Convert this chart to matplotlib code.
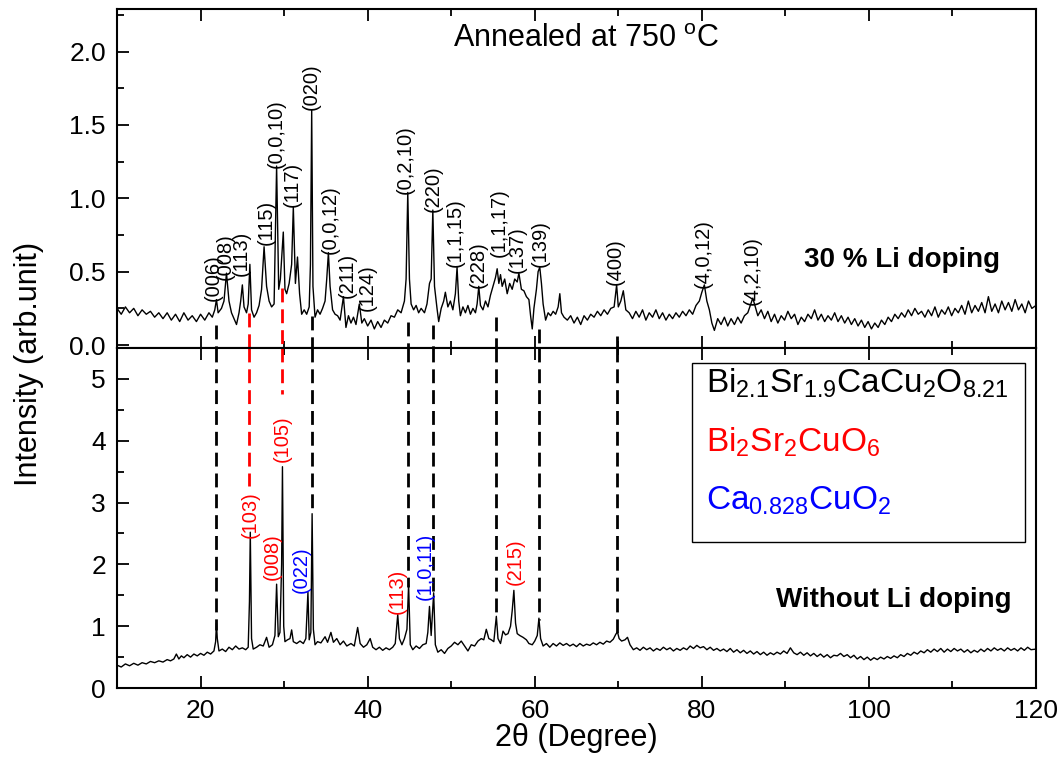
import matplotlib
matplotlib.use("Agg")
import matplotlib.pyplot as plt
from matplotlib.patches import Rectangle
from matplotlib.ticker import MultipleLocator

plt.rcParams['font.family'] = ['Liberation Sans', 'DejaVu Sans']
plt.rcParams['mathtext.fontset'] = 'custom'
plt.rcParams['mathtext.rm'] = 'Liberation Sans'
plt.rcParams['mathtext.it'] = 'Liberation Sans:italic'
plt.rcParams['mathtext.bf'] = 'Liberation Sans:bold'

# ---- 30 % Li doped sample (upper panel) ----
top_x = [10.0, 10.5, 11.0, 11.5, 12.0, 12.5, 13.0, 13.5, 14.0, 14.5, 15.0, 15.5, 16.0, 16.5,
         17.0, 17.5, 18.0, 18.5, 19.0, 19.5, 20.0, 20.5, 21.0, 21.4, 21.7, 21.9, 22.1, 22.5,
         22.8, 23.1, 23.4, 23.7, 24.0, 24.3, 24.6, 24.8, 25.0, 25.2, 25.5, 25.7, 25.9, 26.1,
         26.4, 26.7, 27.0, 27.3, 27.6, 27.9, 28.2, 28.5, 28.8, 29.1, 29.35, 29.55, 29.9, 30.1,
         30.3, 30.6, 30.9, 31.1, 31.35, 31.6, 31.85, 32.1, 32.4, 32.7, 33.0, 33.15, 33.3, 33.45,
         33.7, 34.0, 34.3, 34.6, 34.9, 35.1, 35.3, 35.5, 35.8, 36.1, 36.4, 36.7, 37.1, 37.4,
         37.7, 38.0, 38.3, 38.6, 39.0, 39.3, 39.6, 40.0, 40.4, 40.8, 41.2, 41.6, 42.0, 42.4,
         42.8, 43.2, 43.6, 44.0, 44.4, 44.6, 44.8, 45.0, 45.2, 45.5, 45.8, 46.1, 46.4, 46.8,
         47.1, 47.4, 47.6, 47.8, 48.0, 48.3, 48.5, 48.8, 49.1, 49.3, 49.6, 49.9, 50.2, 50.5,
         50.7, 50.9, 51.1, 51.4, 51.7, 52.0, 52.3, 52.6, 52.9, 53.1, 53.3, 53.5, 53.8, 54.1,
         54.4, 54.7, 55.0, 55.3, 55.5, 55.7, 55.9, 56.1, 56.4, 56.7, 57.0, 57.3, 57.6, 57.9,
         58.1, 58.4, 58.7, 59.0, 59.3, 59.5, 59.7, 59.9, 60.2, 60.4, 60.6, 60.8, 61.0, 61.3,
         61.6, 61.9, 62.2, 62.5, 62.8, 63.0, 63.2, 63.5, 63.9, 64.3, 64.7, 65.1, 65.5, 65.9,
         66.3, 66.7, 67.1, 67.5, 67.9, 68.3, 68.7, 69.1, 69.5, 69.8, 70.0, 70.3, 70.6, 70.9,
         71.3, 71.7, 72.1, 72.5, 72.9, 73.3, 73.7, 74.1, 74.5, 74.9, 75.3, 75.7, 76.1, 76.5,
         76.9, 77.3, 77.7, 78.1, 78.5, 78.9, 79.3, 79.7, 80.0, 80.3, 80.6, 80.9, 81.2, 81.5,
         81.9, 82.3, 82.7, 83.1, 83.5, 83.9, 84.3, 84.7, 85.1, 85.5, 85.8, 86.1, 86.4, 86.7,
         87.1, 87.5, 87.9, 88.3, 88.7, 89.1, 89.5, 89.9, 90.3, 90.7, 91.1, 91.5, 91.9, 92.3,
         92.7, 93.1, 93.5, 93.9, 94.3, 94.7, 95.1, 95.5, 95.9, 96.3, 96.7, 97.1, 97.5, 97.9,
         98.3, 98.7, 99.1, 99.5, 99.9, 100.3, 100.7, 101.1, 101.5, 101.9, 102.3, 102.7, 103.1,
         103.5, 103.9, 104.3, 104.7, 105.1, 105.5, 105.9, 106.3, 106.7, 107.1, 107.5, 107.9,
         108.3, 108.7, 109.1, 109.5, 109.9, 110.3, 110.7, 111.1, 111.5, 111.9, 112.3, 112.7,
         113.1, 113.5, 113.9, 114.3, 114.7, 115.1, 115.5, 115.9, 116.3, 116.7, 117.1, 117.5,
         117.9, 118.3, 118.7, 119.1, 119.5, 120.0]
top_y = [0.25, 0.21, 0.26, 0.22, 0.25, 0.20, 0.24, 0.21, 0.23, 0.19, 0.22, 0.18, 0.22, 0.17,
         0.21, 0.16, 0.22, 0.17, 0.20, 0.16, 0.21, 0.17, 0.22, 0.19, 0.24, 0.31, 0.22, 0.25,
         0.30, 0.49, 0.30, 0.22, 0.18, 0.14, 0.22, 0.30, 0.41, 0.26, 0.22, 0.28, 0.55, 0.24,
         0.19, 0.22, 0.27, 0.38, 0.67, 0.40, 0.30, 0.26, 0.28, 1.22, 0.38, 0.45, 0.77, 0.38,
         0.35, 0.42, 0.55, 0.94, 0.42, 0.60, 0.35, 0.21, 0.24, 0.21, 0.26, 0.55, 1.60, 0.40,
         0.19, 0.24, 0.21, 0.25, 0.30, 0.45, 0.63, 0.40, 0.24, 0.21, 0.20, 0.17, 0.33, 0.12,
         0.20, 0.15, 0.19, 0.14, 0.28, 0.15, 0.18, 0.13, 0.17, 0.11, 0.16, 0.12, 0.17, 0.15,
         0.20, 0.19, 0.24, 0.22, 0.30, 0.45, 1.04, 0.45, 0.28, 0.24, 0.27, 0.22, 0.25, 0.22,
         0.28, 0.42, 0.45, 0.92, 0.40, 0.25, 0.16, 0.25, 0.30, 0.36, 0.26, 0.30, 0.24, 0.35,
         0.53, 0.30, 0.20, 0.26, 0.22, 0.27, 0.21, 0.25, 0.22, 0.28, 0.40, 0.27, 0.24, 0.30,
         0.26, 0.34, 0.40, 0.46, 0.52, 0.42, 0.48, 0.40, 0.45, 0.35, 0.42, 0.38, 0.45, 0.43,
         0.49, 0.38, 0.37, 0.33, 0.31, 0.20, 0.11, 0.25, 0.38, 0.50, 0.53, 0.42, 0.28, 0.17,
         0.22, 0.20, 0.23, 0.21, 0.26, 0.35, 0.22, 0.19, 0.17, 0.20, 0.15, 0.19, 0.14, 0.20,
         0.17, 0.21, 0.19, 0.23, 0.20, 0.24, 0.21, 0.25, 0.26, 0.41, 0.26, 0.30, 0.37, 0.24,
         0.22, 0.18, 0.23, 0.19, 0.24, 0.17, 0.22, 0.19, 0.24, 0.18, 0.22, 0.17, 0.21, 0.18,
         0.22, 0.19, 0.23, 0.20, 0.24, 0.21, 0.27, 0.30, 0.36, 0.41, 0.30, 0.24, 0.15, 0.10,
         0.18, 0.14, 0.19, 0.13, 0.18, 0.14, 0.19, 0.15, 0.20, 0.22, 0.27, 0.32, 0.26, 0.20,
         0.24, 0.18, 0.23, 0.16, 0.21, 0.15, 0.20, 0.17, 0.23, 0.18, 0.21, 0.14, 0.19, 0.16,
         0.21, 0.18, 0.24, 0.17, 0.21, 0.16, 0.20, 0.17, 0.22, 0.16, 0.20, 0.15, 0.19, 0.14,
         0.18, 0.13, 0.17, 0.12, 0.16, 0.11, 0.15, 0.12, 0.17, 0.14, 0.19, 0.16, 0.21,
         0.18, 0.22, 0.19, 0.24, 0.20, 0.25, 0.21, 0.23, 0.19, 0.24, 0.20, 0.26,
         0.19, 0.24, 0.21, 0.26, 0.20, 0.25, 0.22, 0.27, 0.21, 0.30, 0.22, 0.27,
         0.23, 0.29, 0.22, 0.33, 0.23, 0.28, 0.22, 0.30, 0.24, 0.29, 0.23, 0.31,
         0.24, 0.28, 0.22, 0.30, 0.25, 0.27]

# ---- undoped sample (lower panel) ----
bot_x = [10.0, 10.5, 11.0, 11.5, 12.0, 12.5, 13.0, 13.5, 14.0, 14.5, 15.0, 15.5, 16.0, 16.4,
         16.8, 17.1, 17.4, 17.7, 18.0, 18.4, 18.8, 19.2, 19.6, 20.0, 20.4, 20.8, 21.2, 21.6,
         21.8, 21.9, 22.0, 22.2, 22.6, 23.0, 23.4, 23.8, 24.2, 24.6, 25.0, 25.4, 25.7, 25.85,
         25.95, 26.1, 26.3, 26.7, 27.1, 27.5, 27.9, 28.2, 28.6, 28.9, 29.1, 29.3, 29.5, 29.7,
         29.8, 29.95, 30.1, 30.4, 30.7, 30.9, 31.1, 31.5, 31.9, 32.3, 32.6, 32.85, 33.0, 33.2,
         33.35, 33.5, 33.7, 34.0, 34.4, 34.9, 35.2, 35.6, 35.9, 36.3, 36.7, 37.1, 37.5, 38.0,
         38.4, 38.8, 39.1, 39.5, 39.9, 40.3, 40.6, 41.0, 41.4, 41.8, 42.2, 42.6, 43.0, 43.3,
         43.6, 43.8, 44.1, 44.4, 44.7, 44.9, 45.1, 45.4, 45.8, 46.2, 46.6, 47.0, 47.2, 47.4,
         47.6, 47.9, 48.1, 48.4, 48.8, 49.2, 49.6, 50.0, 50.4, 50.8, 51.2, 51.6, 52.0, 52.4,
         52.8, 53.2, 53.6, 53.9, 54.2, 54.5, 54.8, 55.1, 55.4, 55.6, 55.9, 56.2, 56.5, 56.8,
         57.1, 57.3, 57.5, 57.7, 57.9, 58.2, 58.6, 59.0, 59.3, 59.7, 60.0, 60.3, 60.5, 60.7,
         61.0, 61.4, 61.8, 62.2, 62.6, 63.0, 63.4, 63.8, 64.2, 64.6, 65.0, 65.4, 65.8, 66.2,
         66.6, 67.0, 67.4, 67.8, 68.2, 68.6, 69.0, 69.4, 69.7, 69.9, 70.1, 70.4, 70.8, 71.1,
         71.4, 71.8, 72.2, 72.6, 73.0, 73.4, 73.8, 74.2, 74.6, 75.0, 75.4, 75.8, 76.2, 76.6,
         77.0, 77.4, 77.8, 78.2, 78.6, 79.0, 79.4, 79.8, 80.2, 80.6, 81.0, 81.4, 81.8, 82.2,
         82.6, 83.0, 83.4, 83.8, 84.2, 84.6, 85.0, 85.4, 85.8, 86.2, 86.6, 87.0, 87.4, 87.8,
         88.2, 88.6, 89.0, 89.4, 89.8, 90.2, 90.6, 91.0, 91.4, 91.8, 92.2, 92.6, 93.0, 93.4,
         93.8, 94.2, 94.6, 95.0, 95.4, 95.8, 96.2, 96.6, 97.0, 97.4, 97.8, 98.2, 98.6, 99.0,
         99.4, 99.8, 100.2, 100.6, 101.0, 101.4, 101.8, 102.2, 102.6, 103.0, 103.4, 103.8,
         104.2, 104.6, 105.0, 105.4, 105.8, 106.2, 106.6, 107.0, 107.4, 107.8, 108.2, 108.6,
         109.0, 109.4, 109.8, 110.2, 110.6, 111.0, 111.4, 111.8, 112.2, 112.6, 113.0, 113.4,
         113.8, 114.2, 114.6, 115.0, 115.4, 115.8, 116.2, 116.6, 117.0, 117.4, 117.8, 118.2,
         118.6, 119.0, 119.4, 120.0]
bot_y = [0.37, 0.34, 0.39, 0.36, 0.40, 0.37, 0.41, 0.39, 0.43, 0.41, 0.44, 0.42, 0.46, 0.44,
         0.47, 0.55, 0.47, 0.52, 0.49, 0.54, 0.50, 0.55, 0.52, 0.56, 0.53, 0.58, 0.55, 0.60,
         0.75, 1.05, 0.80, 0.60, 0.63, 0.59, 0.66, 0.62, 0.68, 0.63, 0.65, 0.62, 0.66, 1.40,
         2.52, 0.80, 0.63, 0.66, 0.70, 0.68, 0.82, 0.66, 0.70, 0.85, 1.68, 0.83, 0.90, 2.00,
         3.58, 1.00, 0.75, 0.78, 0.80, 0.94, 0.75, 0.72, 0.76, 0.72, 0.80, 1.55, 0.78, 0.90,
         2.82, 0.95, 0.70, 0.75, 0.73, 0.83, 0.74, 0.90, 0.74, 0.80, 0.70, 0.76, 0.68, 0.72,
         0.68, 0.98, 0.72, 0.66, 0.70, 0.80, 0.66, 0.62, 0.66, 0.61, 0.65, 0.62, 0.66, 0.72,
         1.19, 0.80, 0.70, 0.80, 0.95, 1.67, 0.70, 0.62, 0.68, 0.64, 0.70, 0.72, 0.90, 1.32,
         0.85, 1.54, 0.70, 0.58, 0.62, 0.56, 0.64, 0.68, 0.74, 0.70, 0.76, 0.68, 0.60, 0.70,
         0.68, 0.76, 0.80, 0.78, 0.95, 0.80, 0.78, 0.75, 1.16, 0.80, 0.72, 0.92, 0.86, 0.88,
         1.00, 1.25, 1.58, 1.05, 0.88, 0.85, 0.82, 0.78, 0.72, 0.70, 0.76, 0.85, 1.13, 0.80,
         0.68, 0.72, 0.66, 0.72, 0.68, 0.73, 0.69, 0.72, 0.68, 0.71, 0.67, 0.72, 0.68, 0.71,
         0.69, 0.73, 0.70, 0.74, 0.71, 0.76, 0.74, 0.79, 0.87, 0.91, 0.80, 0.76, 0.78, 0.82,
         0.70, 0.62, 0.65, 0.61, 0.66, 0.62, 0.65, 0.60, 0.64, 0.61, 0.66, 0.62, 0.65, 0.60,
         0.64, 0.61, 0.65, 0.62, 0.68, 0.64, 0.69, 0.65, 0.67, 0.62, 0.66, 0.61, 0.64, 0.60,
         0.63, 0.59, 0.64, 0.58, 0.62, 0.57, 0.61, 0.56, 0.60, 0.55, 0.59, 0.54, 0.58, 0.53,
         0.57, 0.54, 0.58, 0.55, 0.60, 0.56, 0.65, 0.57, 0.54, 0.58, 0.53, 0.57, 0.52, 0.56,
         0.51, 0.55, 0.50, 0.54, 0.49, 0.53, 0.52, 0.56, 0.51, 0.54, 0.49, 0.53, 0.47, 0.51,
         0.46, 0.50, 0.45, 0.49, 0.46, 0.50, 0.47, 0.51, 0.48, 0.52, 0.49, 0.54,
         0.51, 0.56, 0.53, 0.58, 0.55, 0.60, 0.57, 0.62, 0.58, 0.63, 0.59, 0.64,
         0.58, 0.63, 0.59, 0.64, 0.60, 0.63, 0.58, 0.62, 0.57, 0.61, 0.58, 0.63,
         0.59, 0.64, 0.60, 0.65, 0.61, 0.64, 0.60, 0.65, 0.61, 0.64, 0.60, 0.65,
         0.61, 0.66, 0.62, 0.63]

# hkl labels: text, 2theta, height where the label starts
top_labels = ["(006)", "(008)", "(113)", "(115)", "(0,0,10)", "(117)", "(020)", "(0,0,12)",
              "(211)", "(124)", "(0,2,10)", "(220)", "(1,1,15)", "(228)", "(1,1,17)",
              "(137)", "(139)", "(400)", "(4,0,12)", "(4,2,10)"]
top_label_x = [21.5, 22.9, 24.9, 27.85, 29.0, 31.0, 33.3, 35.5, 37.5, 39.9, 44.5, 47.8,
               50.5, 53.2, 55.7, 57.9, 60.7, 69.6, 80.2, 86.0]
top_label_y = [0.30, 0.44, 0.47, 0.68, 1.21, 0.94, 1.60, 0.62, 0.32, 0.23, 1.03, 0.91,
               0.53, 0.39, 0.60, 0.49, 0.53, 0.41, 0.39, 0.27]

bot_labels = ["(103)", "(008)", "(105)", "(022)", "(113)", "(1,0,11)", "(215)"]
bot_label_x = [25.9, 28.6, 29.8, 32.0, 43.6, 46.9, 57.7]
bot_label_y = [2.43, 1.75, 3.65, 1.54, 1.19, 1.43, 1.67]
bot_label_c = ["red", "red", "red", "blue", "red", "blue", "red"]

# dashed guide lines linking the two patterns
guide_x = [21.9, 25.85, 29.8, 33.3, 44.8, 47.8, 55.4, 60.5, 69.8]
guide_top = [0.14, 0.22, 0.39, 0.20, 0.16, 0.14, 0.19, 0.11, 0.06]
guide_bot = [0.94, 3.27, 4.76, 2.84, 1.64, 1.54, 1.16, 1.10, 0.89]
guide_c = ["black", "red", "red", "black", "black", "black", "black", "black", "black"]

fig = plt.figure(figsize=(10.64, 7.58), dpi=100)
ax1 = fig.add_axes([0.110, 0.5409, 0.8637, 0.4472])
ax2 = fig.add_axes([0.110, 0.0923, 0.8637, 0.4486], sharex=ax1)

dash = (0, (5, 2.5))
for ax in (ax1, ax2):
    for s in ax.spines.values():
        s.set_linewidth(1.5)
    ax.tick_params(which='both', direction='in', top=True, width=1.3, labelsize=19, pad=8)
    ax.tick_params(which='major', length=8.5)
    ax.tick_params(which='minor', length=5)
    ax.xaxis.set_major_locator(MultipleLocator(20))
    ax.xaxis.set_minor_locator(MultipleLocator(10))

ax1.plot(top_x, top_y, color='black', lw=1.0)
ax2.plot(bot_x, bot_y, color='black', lw=1.0)

ax1.set_xlim(10, 120)
ax1.set_ylim(-0.02, 2.29)
ax2.set_ylim(0, 5.5)
ax1.yaxis.set_minor_locator(MultipleLocator(0.25))
ax1.set_yticks([0.0, 0.5, 1.0, 1.5, 2.0])
ax1.set_yticklabels(["0.0", "0.5", "1.0", "1.5", "2.0"])
ax2.yaxis.set_major_locator(MultipleLocator(1))
ax2.yaxis.set_minor_locator(MultipleLocator(0.5))
ax1.tick_params(labelbottom=False)

for x, y0, y1, c in zip(guide_x, guide_top, guide_bot, guide_c):
    ax1.plot([x, x], [y0, -0.02], color=c, lw=2, linestyle=dash)
    ax2.plot([x, x], [5.5, y1], color=c, lw=2, linestyle=dash)

for t, x, y in zip(top_labels, top_label_x, top_label_y):
    ax1.text(x, y, t, rotation=90, ha='center', va='bottom', fontsize=14.5)
for t, x, y, c in zip(bot_labels, bot_label_x, bot_label_y, bot_label_c):
    ax2.text(x, y, t, rotation=90, ha='center', va='bottom', fontsize=14.5, color=c)

ax1.text(66.2, 2.03, r"Annealed at 750 $^\mathrm{o}$C", ha='center', va='baseline', fontsize=22)
ax1.text(103.9, 0.53, "30 % Li doping", ha='center', va='baseline', fontsize=20,
         fontweight='bold')
ax2.text(103.0, 1.31, "Without Li doping", ha='center', va='baseline', fontsize=20,
         fontweight='bold')

# composition key in a plain box
ax2.add_patch(Rectangle((0.626, 0.429), 0.362, 0.527, transform=ax2.transAxes,
                        fill=False, edgecolor='black', lw=1))
ax2.text(0.641, 0.868, r"$\mathrm{Bi_{2.1}Sr_{1.9}CaCu_2O_{8.21}}$", transform=ax2.transAxes,
         fontsize=24, color='black', va='baseline')
ax2.text(0.641, 0.694, r"$\mathrm{Bi_2Sr_2CuO_6}$", transform=ax2.transAxes,
         fontsize=24, color='red', va='baseline')
ax2.text(0.641, 0.524, r"$\mathrm{Ca_{0.828}CuO_2}$", transform=ax2.transAxes,
         fontsize=24, color='blue', va='baseline')

ax2.set_xlabel("2θ (Degree)", fontsize=22, labelpad=0)
fig.text(0.027, 0.52, "Intensity (arb.unit)", rotation=90, ha='center', va='center',
         fontsize=22)

fig.savefig("out.png", dpi=100)
